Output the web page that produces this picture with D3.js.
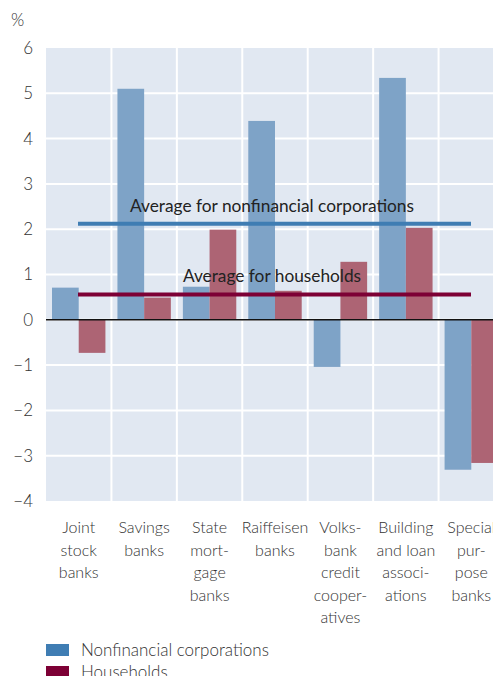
<!DOCTYPE html>
<html>
<head>
<meta charset="utf-8">
<script src="https://cdn.jsdelivr.net/npm/d3@7"></script>
<style>
  body { margin: 0; background: #fff; }
  svg { display: block; font-family: Lato, "Open Sans", sans-serif; }
</style>
</head>
<body>
<svg id="canvas" width="493" height="676"></svg>
<script>
// categories, each label split into lines
let categories = [
    ["Joint", "stock", "banks"],
    ["Savings", "banks"],
    ["State", "mort-", "gage", "banks"],
    ["Raiffeisen", "banks"],
    ["Volks-", "bank", "credit", "cooper-", "atives"],
    ["Building", "and loan", "associ-", "ations"],
    ["Special", "pur-", "pose", "banks"]
];
let seriesNames = ["Nonfinancial corporations", "Households"];
let nonfinancial = [0.71, 5.10, 0.73, 4.39, -1.04, 5.34, -3.31];
let households = [-0.73, 0.49, 1.99, 0.64, 1.28, 2.03, -3.16];
let averages = [2.12, 0.56];
let averageLabels = ["Average for nonfinancial corporations", "Average for households"];
let yTicks = [-4, -3, -2, -1, 0, 1, 2, 3, 4, 5, 6];

const barColors = ["#7ea3c7", "#ad6474"];
const lineColors = ["#3f7db3", "#7d0035"];

const svg = d3.select('#canvas');
const plotLeft = 46, plotRight = 504, plotTop = 48, plotBottom = 501;

let y = d3.scaleLinear().domain([-4, 6]).range([plotBottom, plotTop]);
let x = d3.scaleBand().domain(d3.range(categories.length)).range([plotLeft, plotRight]);
let xInner = d3.scaleBand().domain([0, 1]).range([0, x.bandwidth()]).paddingOuter(0.225);

// background
svg.append('rect')
    .attr('x', plotLeft).attr('y', plotTop)
    .attr('width', plotRight - plotLeft).attr('height', plotBottom - plotTop)
    .attr('fill', '#e1e8f2');

// grid
svg.append('g').selectAll('line')
    .data(yTicks.filter(d => d != -4 && d != 6))
    .join('line')
    .attr('x1', plotLeft).attr('x2', plotRight)
    .attr('y1', d => y(d)).attr('y2', d => y(d))
    .attr('stroke', 'white').attr('stroke-width', 2);
svg.append('g').selectAll('line')
    .data(d3.range(1, categories.length))
    .join('line')
    .attr('x1', d => x(d)).attr('x2', d => x(d))
    .attr('y1', plotTop).attr('y2', plotBottom)
    .attr('stroke', 'white').attr('stroke-width', 2);

// bars
let series = [nonfinancial, households];
series.forEach((vals, s) => {
    svg.append('g').selectAll('rect')
        .data(vals)
        .join('rect')
        .attr('x', (d, i) => x(i) + xInner(s))
        .attr('width', xInner.bandwidth())
        .attr('y', d => y(Math.max(0, d)))
        .attr('height', d => Math.abs(y(d) - y(0)))
        .attr('fill', barColors[s]);
});

// zero line
svg.append('line')
    .attr('x1', plotLeft).attr('x2', plotRight)
    .attr('y1', y(0)).attr('y2', y(0))
    .attr('stroke', '#111').attr('stroke-width', 1.5);

// average lines
averages.forEach((v, s) => {
    svg.append('line')
        .attr('x1', 78).attr('x2', 471)
        .attr('y1', y(v)).attr('y2', y(v))
        .attr('stroke', lineColors[s]).attr('stroke-width', 4);
    svg.append('text')
        .attr('x', 272).attr('y', y(v) - 12)
        .attr('text-anchor', 'middle')
        .attr('font-size', 17.3)
        .attr('fill', '#222')
        .text(averageLabels[s]);
});

// y axis labels
svg.append('g').selectAll('text')
    .data(yTicks)
    .join('text')
    .attr('x', 33).attr('y', d => y(d))
    .attr('dy', '0.35em')
    .attr('text-anchor', 'end')
    .attr('font-size', 17)
    .attr('font-weight', 300)
    .attr('fill', '#333')
    .text(d => d < 0 ? "\u2212" + Math.abs(d) : d);

svg.append('text')
    .attr('x', 11).attr('y', 26)
    .attr('font-size', 17)
    .attr('font-weight', 300)
    .attr('fill', '#333')
    .text('%');

// category labels
svg.append('g').selectAll('text')
    .data(categories)
    .join('text')
    .attr('x', (d, i) => x(i) + x.bandwidth() / 2)
    .attr('y', 533)
    .attr('text-anchor', 'middle')
    .attr('font-size', 16)
    .attr('font-weight', 300)
    .attr('fill', '#333')
    .each(function(d) {
        d3.select(this).selectAll('tspan')
            .data(d)
            .join('tspan')
            .attr('x', d3.select(this).attr('x'))
            .attr('dy', (t, j) => j == 0 ? 0 : 22.5)
            .text(t => t);
    });

// legend
let legend = svg.append('g').selectAll('g')
    .data(seriesNames)
    .join('g')
    .attr('transform', (d, i) => `translate(46, ${644 + i * 22})`);
legend.append('rect')
    .attr('width', 23).attr('height', 12)
    .attr('fill', (d, i) => lineColors[i]);
legend.append('text')
    .attr('x', 35).attr('y', 6)
    .attr('dy', '0.35em')
    .attr('font-size', 17)
    .attr('font-weight', 300)
    .attr('fill', '#333')
    .text(d => d);
</script>
</body>
</html>
